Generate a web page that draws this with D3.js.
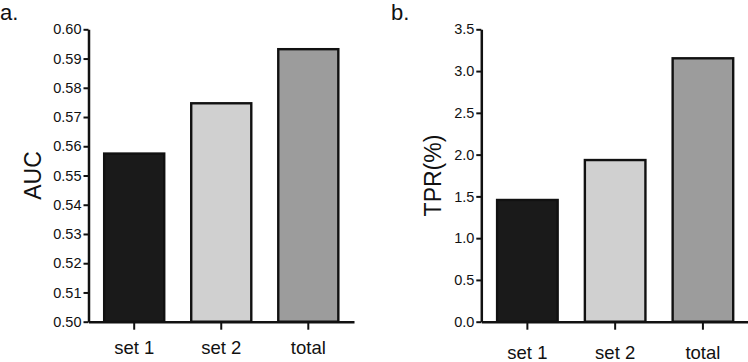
<!DOCTYPE html>
<html>
<head>
<meta charset="utf-8">
<script src="https://cdn.jsdelivr.net/npm/d3@7"></script>
<style>
  body { margin: 0; background: #fff; }
  svg text { font-family: "Liberation Sans", Arial, sans-serif; fill: #111; }
</style>
</head>
<body>
<svg width="748" height="362"></svg>
<script>
// data
const categories = ["set 1", "set 2", "total"];
const aucValues = [0.5575, 0.5747, 0.5932];
const tprValues = [1.457, 1.935, 3.153];
const aucTicks = [0.50, 0.51, 0.52, 0.53, 0.54, 0.55, 0.56, 0.57, 0.58, 0.59, 0.60];
const tprTicks = [0.0, 0.5, 1.0, 1.5, 2.0, 2.5, 3.0, 3.5];
const barColors = ["#1a1a1a", "#d0d0d0", "#9c9c9c"];

const svg = d3.select("svg");

function drawPanel(opt) {
    const g = svg.append("g");

    const x = d3.scaleBand()
        .domain(categories)
        .range([opt.x0, opt.x1])
        .paddingInner(0.31)
        .paddingOuter(0.18);

    const y = d3.scaleLinear()
        .domain(opt.domain)
        .range([opt.y0, opt.y1]);

    // bars
    g.selectAll(".bar")
        .data(opt.values)
        .enter().append("rect")
        .attr("class", "bar")
        .attr("x", (d, i) => x(categories[i]))
        .attr("y", d => y(d))
        .attr("width", x.bandwidth())
        .attr("height", d => y(opt.domain[0]) - y(d))
        .attr("fill", (d, i) => barColors[i])
        .attr("stroke", "#111")
        .attr("stroke-width", 2.4);

    // y axis
    const ya = g.append("g")
        .attr("transform", `translate(${opt.x0},0)`)
        .call(d3.axisLeft(y).tickValues(opt.ticks).tickFormat(opt.fmt)
            .tickSize(5).tickSizeOuter(0).tickPadding(2));
    ya.select(".domain").attr("stroke", "#111").attr("stroke-width", 2.5);
    ya.selectAll(".tick line").attr("stroke", "#111").attr("stroke-width", 2);
    ya.selectAll("text").style("font-size", "14.5px").attr("fill", "#111");

    // x axis
    const xa = g.append("g")
        .attr("transform", `translate(0,${opt.y0})`)
        .call(d3.axisBottom(x).tickSize(8).tickSizeOuter(0).tickPadding(opt.labelPad));
    xa.select(".domain").attr("stroke", "#111").attr("stroke-width", 2.5);
    xa.selectAll(".tick line").attr("stroke", "#111").attr("stroke-width", 2);
    xa.selectAll("text").style("font-size", "18.5px").attr("fill", "#111");

    // y title
    g.append("text")
        .attr("transform", `translate(${opt.titleX},${(opt.y0 + opt.y1) / 2}) rotate(-90)`)
        .attr("text-anchor", "middle")
        .attr("dy", "0.35em")
        .style("font-size", "23px")
        .text(opt.title);

    // panel letter
    g.append("text")
        .attr("x", opt.letterX)
        .attr("y", 20)
        .style("font-size", "22px")
        .text(opt.letter);
}

drawPanel({
    x0: 88.5, x1: 354, y0: 321.7, y1: 29.3,
    domain: [0.50, 0.60], values: aucValues, ticks: aucTicks,
    fmt: d3.format(".2f"), title: "AUC", titleX: 33,
    letter: "a.", letterX: 0, labelPad: 11
});

drawPanel({
    x0: 481.3, x1: 749, y0: 321.7, y1: 29.3,
    domain: [0, 3.5], values: tprValues, ticks: tprTicks,
    fmt: d3.format(".1f"), title: "TPR(%)", titleX: 433,
    letter: "b.", letterX: 391, labelPad: 16
});
</script>
</body>
</html>
